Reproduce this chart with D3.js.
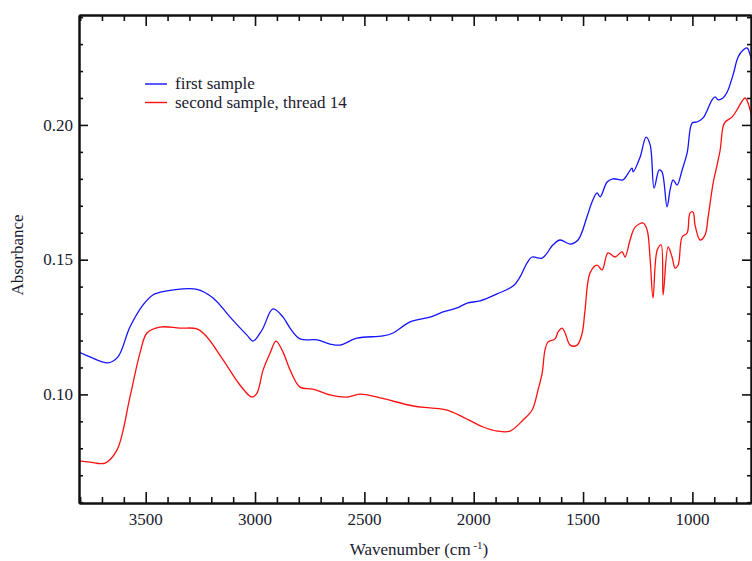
<!DOCTYPE html>
<html>
  <head>
    <meta charset="utf-8">
    <script src="https://d3js.org/d3.v7.min.js"></script>
    <style media="screen" type="text/css">
      body { margin: 0; background: #fff; }
      .axis path, .axis line { stroke: #111; }
    </style>
  </head>
  <body>
    <script type="text/javascript">
      // Data (wavenumber, absorbance)
      const firstWave = [3805, 3755, 3672, 3627, 3572, 3512, 3467, 3403, 3343, 3265, 3192, 3114, 3037, 3009, 2968, 2918, 2872, 2840, 2794, 2716, 2657, 2611, 2534, 2415, 2369, 2291, 2200, 2140, 2076, 2030, 1971, 1893, 1820, 1788, 1756, 1733, 1687, 1637, 1605, 1559, 1523, 1482, 1459, 1436, 1422, 1390, 1363, 1317, 1299, 1276, 1271, 1239, 1212, 1193, 1175, 1152, 1139, 1116, 1102, 1088, 1070, 1047, 1024, 1001, 979, 951, 910, 896, 882, 860, 841, 814, 791, 768, 750, 736, 727];
      const firstAbs = [0.1157, 0.1139, 0.1117, 0.1139, 0.1250, 0.1332, 0.1369, 0.1384, 0.1391, 0.1390, 0.1358, 0.1287, 0.1220, 0.1198, 0.1239, 0.1317, 0.1287, 0.1246, 0.1206, 0.1202, 0.1187, 0.1183, 0.1209, 0.1217, 0.1228, 0.1269, 0.1287, 0.1306, 0.1321, 0.1339, 0.1347, 0.1373, 0.1402, 0.1436, 0.1488, 0.1510, 0.1506, 0.1555, 0.1573, 0.1558, 0.1573, 0.1659, 0.1714, 0.1748, 0.1733, 0.1788, 0.1800, 0.1796, 0.1814, 0.1840, 0.1826, 0.1881, 0.1955, 0.1926, 0.1766, 0.1833, 0.1826, 0.1696, 0.1759, 0.1796, 0.1777, 0.1833, 0.1896, 0.2007, 0.2011, 0.2026, 0.2093, 0.2104, 0.2093, 0.2100, 0.2122, 0.2186, 0.2252, 0.2278, 0.2286, 0.2260, 0.2234];

      const secondWave = [3805, 3755, 3686, 3631, 3572, 3526, 3494, 3435, 3343, 3265, 3220, 3146, 3069, 3014, 2991, 2963, 2931, 2904, 2872, 2840, 2794, 2735, 2657, 2579, 2520, 2428, 2277, 2200, 2122, 2049, 1957, 1893, 1834, 1774, 1733, 1706, 1687, 1674, 1660, 1628, 1614, 1596, 1582, 1559, 1527, 1504, 1491, 1468, 1436, 1413, 1386, 1354, 1321, 1308, 1285, 1262, 1225, 1207, 1193, 1180, 1161, 1143, 1134, 1111, 1093, 1079, 1065, 1047, 1024, 1011, 997, 988, 965, 942, 928, 905, 887, 873, 860, 850, 818, 796, 759, 736, 727];
      const secondAbs = [0.0753, 0.0749, 0.0745, 0.0794, 0.0990, 0.1154, 0.1228, 0.1250, 0.1246, 0.1243, 0.1213, 0.1128, 0.1035, 0.0990, 0.1005, 0.1091, 0.1154, 0.1198, 0.1157, 0.1091, 0.1027, 0.1020, 0.0998, 0.0990, 0.1001, 0.0987, 0.0957, 0.0950, 0.0942, 0.0916, 0.0879, 0.0864, 0.0864, 0.0905, 0.0942, 0.1016, 0.1079, 0.1165, 0.1195, 0.1206, 0.1232, 0.1246, 0.1228, 0.1183, 0.1183, 0.1228, 0.1313, 0.1451, 0.1480, 0.1462, 0.1525, 0.1510, 0.1529, 0.1510, 0.1573, 0.1621, 0.1636, 0.1610, 0.1499, 0.1358, 0.1536, 0.1555, 0.1369, 0.1547, 0.1510, 0.1469, 0.1480, 0.1584, 0.1599, 0.1673, 0.1677, 0.1629, 0.1573, 0.1592, 0.1659, 0.1785, 0.1852, 0.1907, 0.1993, 0.2011, 0.2030, 0.2056, 0.2100, 0.2056, 0.2019];

      const seriesNames = ['first sample', 'second sample, thread 14'];
      const seriesColors = ['#1414ff', '#ff1010'];

      const xMajor = [3500, 3000, 2500, 2000, 1500, 1000];
      const xMinor = d3.range(3800, 700, -100).filter(v => v % 500 !== 0);
      const yMajor = [0.10, 0.15, 0.20];
      const yMinor = [0.06, 0.07, 0.08, 0.09, 0.11, 0.12, 0.13, 0.14, 0.16, 0.17, 0.18, 0.19, 0.21, 0.22, 0.23, 0.24];

      // Layout
      const width = 752, height = 561;
      const plotLeft = 79, plotRight = 751, plotTop = 15, plotBottom = 503;
      const serif = '"Liberation Serif", "Times New Roman", Tinos, "Nimbus Roman", FreeSerif';
      const textColor = '#1a1a2e';

      const svg = d3.select('body')
        .append('svg')
        .attr('width', width)
        .attr('height', height)
        .style('font-family', serif);

      const x = d3.scaleLinear().domain([3805, 732]).range([plotLeft, plotRight]);
      const y = d3.scaleLinear().domain([0.0597, 0.2408]).range([plotBottom, plotTop]);

      svg.append('defs').append('clipPath').attr('id', 'plot-clip')
        .append('rect')
        .attr('x', plotLeft).attr('y', plotTop)
        .attr('width', width - plotLeft).attr('height', plotBottom - plotTop);

      // Curves
      const line = d3.line()
        .x(d => x(d[0]))
        .y(d => y(d[1]))
        .curve(d3.curveCatmullRom.alpha(0.5));

      const series = [
        d3.zip(firstWave, firstAbs),
        d3.zip(secondWave, secondAbs)
      ];

      svg.append('g')
        .attr('clip-path', 'url(#plot-clip)')
        .selectAll('path')
        .data(series)
        .join('path')
          .attr('d', line)
          .attr('fill', 'none')
          .attr('stroke', (d, i) => seriesColors[i])
          .attr('stroke-width', 1.3)
          .attr('stroke-linejoin', 'round');

      // Axes (ticks point inward)
      function tickAxis(axis, scale, values, size) {
        return axis(scale).tickValues(values).tickSize(size).tickSizeOuter(0).tickFormat('');
      }

      const bottomG = svg.append('g').attr('class', 'axis').attr('transform', `translate(0,${plotBottom})`);
      bottomG.call(tickAxis(d3.axisBottom, x, xMinor, -6));
      bottomG.append('g').call(tickAxis(d3.axisBottom, x, xMajor, -11));

      const topG = svg.append('g').attr('class', 'axis').attr('transform', `translate(0,${plotTop})`);
      topG.call(tickAxis(d3.axisTop, x, xMinor, -6));
      topG.append('g').call(tickAxis(d3.axisTop, x, xMajor, -11));

      const leftG = svg.append('g').attr('class', 'axis').attr('transform', `translate(${plotLeft},0)`);
      leftG.call(tickAxis(d3.axisLeft, y, yMinor, -4));
      leftG.append('g').call(tickAxis(d3.axisLeft, y, yMajor, -9));

      const rightG = svg.append('g').attr('class', 'axis').attr('transform', `translate(${plotRight},0)`);
      rightG.call(tickAxis(d3.axisRight, y, yMinor, -4));
      rightG.append('g').call(tickAxis(d3.axisRight, y, yMajor, -9));

      svg.selectAll('.axis line').attr('stroke-width', 1.6);
      svg.selectAll('.axis path').attr('stroke-width', 2);

      // All text goes in one group so the serif face applies everywhere
      const labels = svg.append('g').style('font-family', serif).style('font-size', '17px').attr('fill', textColor);

      // Tick labels
      labels.append('g')
        .selectAll('text')
        .data(xMajor)
        .join('text')
          .attr('x', d => x(d))
          .attr('y', 525)
          .attr('text-anchor', 'middle')
          .text(d => d);

      labels.append('g')
        .selectAll('text')
        .data(yMajor)
        .join('text')
          .attr('x', 73)
          .attr('y', d => y(d))
          .attr('dy', '0.33em')
          .attr('text-anchor', 'end')
          .text(d => d3.format('.2f')(d));

      // Axis titles
      const xTitle = labels.append('text')
        .attr('x', 419)
        .attr('y', 555)
        .attr('text-anchor', 'middle');
      xTitle.append('tspan').text('Wavenumber (cm');
      xTitle.append('tspan').attr('dy', -6).style('font-size', '11px').text(' -1');
      xTitle.append('tspan').attr('dy', 6).text(')');

      labels.append('text')
        .attr('transform', 'translate(23,255) rotate(-90)')
        .attr('text-anchor', 'middle')
        .text('Absorbance');

      // Legend
      const legend = labels.append('g')
        .selectAll('g')
        .data(seriesNames)
        .join('g')
          .attr('transform', (d, i) => `translate(145,${84 + i * 18.5})`);

      legend.append('line')
        .attr('x1', 0).attr('x2', 22)
        .attr('stroke', (d, i) => seriesColors[i])
        .attr('stroke-width', 1.4);

      legend.append('text')
        .attr('x', 30)
        .attr('dy', '0.3em')
        .text(d => d);
    </script>
  </body>
</html>
